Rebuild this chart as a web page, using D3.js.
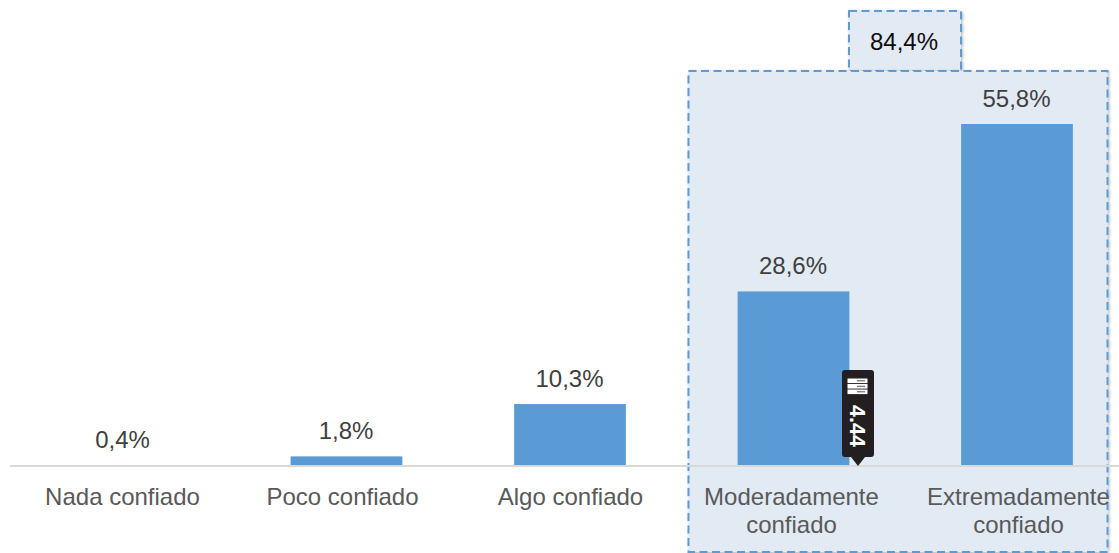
<!DOCTYPE html>
<html><head><meta charset="utf-8">
<style>html,body{margin:0;padding:0;background:#fff}svg{display:block}text{font-family:"Liberation Sans",Arial,sans-serif}</style>
<script src="https://cdn.jsdelivr.net/npm/d3@7"></script></head><body><div id="c"></div>
<script>
const categories=[["Nada confiado"],["Poco confiado"],["Algo confiado"],["Moderadamente","confiado"],["Extremadamente","confiado"]];
const values=[0.4,1.8,10.3,28.6,55.8];
const valueLabels=["0,4%","1,8%","10,3%","28,6%","55,8%"];
const totalLabel="84,4%";
const badgeLabel="4.44";
const W=1119,H=553;
const labelNudge=[-0.5,-4,0.5,-2,1.5];
const svg=d3.select("#c").append("svg").attr("width",W).attr("height",H);
const defs=svg.append("defs");
const f=defs.append("filter").attr("id","sh").attr("x","-5%").attr("y","-5%").attr("width","110%").attr("height","110%");
f.append("feDropShadow").attr("dx",1).attr("dy",1).attr("stdDeviation",1.5).attr("flood-color","#000").attr("flood-opacity",.3);
const x=d3.scaleBand().domain(d3.range(5)).range([11.25,1128.75]).paddingInner(.5).paddingOuter(.25);
const y=d3.scaleLinear().domain([0.4,55.8]).range([465,124]);
const dash="8 4.5";
function box(a,b,c,d){svg.append("rect").attr("x",a).attr("y",b).attr("width",c).attr("height",d).attr("fill","#e2eaf4").attr("stroke","#5b9bd5").attr("stroke-width",2).attr("stroke-dasharray",dash).attr("filter","url(#sh)");}
box(849,11,112,60);
box(688.5,71,419,481);
svg.append("text").attr("x",904).attr("y",50).attr("text-anchor","middle").attr("font-size",24).attr("fill","#0d0d0d").text(totalLabel);
svg.append("line").attr("x1",10).attr("x2",1119).attr("y1",466).attr("y2",466).attr("stroke","#d9d9d9").attr("stroke-width",2);
svg.selectAll("rect.bar").data(values).join("rect").attr("class","bar").attr("x",(d,i)=>x(i)).attr("width",x.bandwidth()).attr("y",d=>y(d)).attr("height",d=>y(0.4)-y(d)).attr("fill","#5b9bd5");
svg.selectAll("text.val").data(values).join("text").attr("class","val").attr("x",(d,i)=>x(i)+x.bandwidth()/2-0.5).attr("y",d=>y(d)-17).attr("text-anchor","middle").attr("font-size",24).attr("fill","#404040").text((d,i)=>valueLabels[i]);
categories.forEach((c,i)=>{c.forEach((s,j)=>{svg.append("text").attr("x",x(i)+x.bandwidth()/2+labelNudge[i]).attr("y",505+j*28).attr("text-anchor","middle").attr("font-size",24).attr("fill","#595959").text(s);});});
const g=svg.append("g").attr("transform","translate(858,0)");
g.append("path").attr("d","M-16,373 a3,3 0 0 1 3,-3 h26 a3,3 0 0 1 3,3 V454 a3,3 0 0 1 -3,3 h-6 l-7,9 l-7,-9 h-6 a3,3 0 0 1 -3,-3 Z").attr("fill","#231f20");
[378.5,384,389.5].forEach(v=>{g.append("rect").attr("x",-10.5).attr("y",v).attr("width",20).attr("height",4.6).attr("fill","#fff");g.append("rect").attr("x",-1).attr("y",v+1.8).attr("width",8).attr("height",1).attr("fill","#555");});
g.append("text").attr("transform","translate(-8,405) rotate(90)").attr("font-size",21.5).attr("font-weight","700").attr("fill","#fff").text(badgeLabel);
</script></body></html>
